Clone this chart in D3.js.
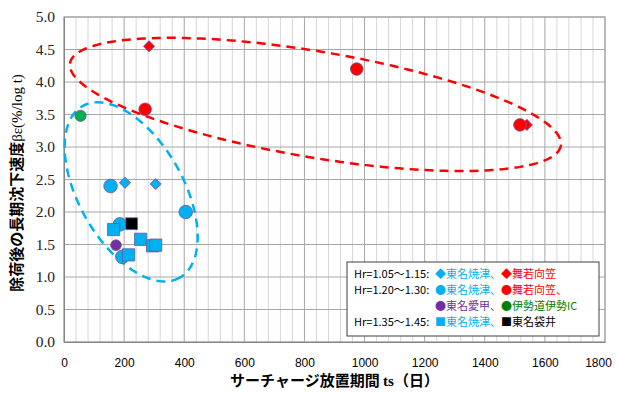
<!DOCTYPE html>
<html>
<head>
<meta charset="utf-8">
<script src="https://cdn.jsdelivr.net/npm/d3@7"></script>
<style>
  body { margin: 0; background: #fff; }
  svg { display: block; }
</style>
</head>
<body>
<div id="chart"></div>
<script>
// tick values
var xTicks = d3.range(0, 1801, 200);
var xMinor = d3.range(0, 1801, 40);
var yTicks = d3.range(0, 5.001, 0.5);

// series [ts, beta]
var diamondYaizu = [[203, 2.45], [305, 2.43]];
var diamondMaizuru = [[283, 4.55], [1540, 3.34]];
var circleYaizu = [[155, 2.40], [405, 2.00], [186, 1.81], [194, 1.31]];
var circleMaizuru = [[270, 3.58], [974, 4.20], [1517, 3.34]];
var circleAiko = [[173, 1.49]];
var circleIse = [[55, 3.48]];
var squareYaizu = [[165, 1.73], [255, 1.58], [295, 1.48], [305, 1.49], [215, 1.34]];
var squareFukuroi = [[225, 1.82]];

// dashed loops: major axis ends in data units + minor/major ratio
var loopRed = [[20, 4.29], [1653, 3.02]], loopRedRatio = 0.213;
var loopBlue = [[62, 3.63], [385, 0.99]], loopBlueRatio = 0.53;

var W = 619, H = 394;
var margin = {top: 17, right: 14, bottom: 52, left: 64};
var width = W - margin.left - margin.right;
var height = H - margin.top - margin.bottom;

var svg = d3.select("#chart").append("svg")
    .attr("width", W)
    .attr("height", H);

var g = svg.append("g")
    .attr("transform", "translate(" + margin.left + "," + margin.top + ")");

var x = d3.scaleLinear().domain([0, 1800]).range([0, width]);
var y = d3.scaleLinear().domain([0, 5]).range([height, 0]);

// grid
g.append("g").selectAll("line")
    .data(xMinor.filter(function(d) { return d % 200 != 0; }))
    .enter().append("line")
    .attr("x1", function(d) { return x(d); })
    .attr("x2", function(d) { return x(d); })
    .attr("y1", 0).attr("y2", height)
    .attr("stroke", "#d6d6d6");

g.append("g").selectAll("line")
    .data(xTicks)
    .enter().append("line")
    .attr("x1", function(d) { return x(d); })
    .attr("x2", function(d) { return x(d); })
    .attr("y1", 0).attr("y2", height)
    .attr("stroke", "#a6a6a6");

g.append("g").selectAll("line")
    .data(yTicks)
    .enter().append("line")
    .attr("x1", 0).attr("x2", width)
    .attr("y1", function(d) { return y(d); })
    .attr("y2", function(d) { return y(d); })
    .attr("stroke", "#a6a6a6");

g.append("rect")
    .attr("width", width).attr("height", height)
    .attr("fill", "none").attr("stroke", "#a0a0a0");

// axes
var xAxis = d3.axisBottom(x).tickValues(xTicks).tickSize(0).tickPadding(16)
    .tickFormat(d3.format("d"));
var yAxis = d3.axisLeft(y).tickValues(yTicks).tickSize(0).tickPadding(9)
    .tickFormat(d3.format(".1f"));

g.append("g")
    .attr("transform", "translate(0," + height + ")")
    .call(xAxis)
    .call(function(s) {
        s.select(".domain").attr("stroke", "#868686");
        s.selectAll("text").attr("font-family", "Liberation Sans, Arial, sans-serif")
            .attr("font-size", "12px").attr("fill", "#000");
        s.selectAll("text").filter(function(d) { return d == 1800; }).attr("dx", "-7");
    });

g.append("g")
    .call(yAxis)
    .call(function(s) {
        s.select(".domain").attr("stroke", "#868686");
        s.selectAll("text").attr("font-family", "Liberation Serif, Times New Roman, serif")
            .attr("font-size", "15.5px").attr("fill", "#222");
    });

// dashed loops
function loopPath(ends, ratio) {
    var p0 = [x(ends[0][0]), y(ends[0][1])];
    var p1 = [x(ends[1][0]), y(ends[1][1])];
    var cx = (p0[0] + p1[0]) / 2, cy = (p0[1] + p1[1]) / 2;
    var a = Math.hypot(p1[0] - p0[0], p1[1] - p0[1]) / 2;
    var b = a * ratio;
    var ang = Math.atan2(p1[1] - p0[1], p1[0] - p0[0]);
    var pts = d3.range(0, 2 * Math.PI, Math.PI / 90).map(function(t) {
        var ex = a * Math.cos(t), ey = b * Math.sin(t);
        return [cx + ex * Math.cos(ang) - ey * Math.sin(ang),
                cy + ex * Math.sin(ang) + ey * Math.cos(ang)];
    });
    return d3.line().curve(d3.curveLinearClosed)(pts);
}

g.append("path")
    .attr("d", loopPath(loopRed, loopRedRatio))
    .attr("fill", "none").attr("stroke", "#ff0000")
    .attr("stroke-width", 2.5).attr("stroke-dasharray", "9,6");

g.append("path")
    .attr("d", loopPath(loopBlue, loopBlueRatio))
    .attr("fill", "none").attr("stroke", "#00b0f0")
    .attr("stroke-width", 2.5).attr("stroke-dasharray", "9,6");

// markers
var edge = "#6a5a9a";
function drawSeries(data, type, fill, size, rot) {
    var sym = d3.symbol().type(type).size(size);
    g.append("g").selectAll("path")
        .data(data)
        .enter().append("path")
        .attr("transform", function(d) {
            return "translate(" + x(d[0]) + "," + y(d[1]) + ")" + (rot ? " rotate(45)" : "");
        })
        .attr("d", sym)
        .attr("fill", fill)
        .attr("stroke", edge)
        .attr("stroke-width", 0.8);
}

drawSeries(diamondYaizu, d3.symbolSquare, "#00b0f0", 62, true);
drawSeries(diamondMaizuru, d3.symbolSquare, "#ff0000", 62, true);
drawSeries(circleYaizu, d3.symbolCircle, "#00b0f0", 145);
drawSeries(circleMaizuru, d3.symbolCircle, "#ff0000", 125);
drawSeries(circleAiko, d3.symbolCircle, "#7030a0", 90);
drawSeries(circleIse, d3.symbolCircle, "#00b050", 100);
drawSeries(squareYaizu, d3.symbolSquare, "#00b0f0", 150);
drawSeries(squareFukuroi, d3.symbolSquare, "#000000", 140);

// axis titles
svg.append("text")
    .attr("transform", "translate(" + (margin.left + width / 2) + ",386)")
    .attr("text-anchor", "middle")
    .attr("font-family", "Noto Sans CJK JP, sans-serif")
    .attr("font-weight", "bold")
    .attr("font-size", "15px")
    .text("サーチャージ放置期間 ")
    .append("tspan")
    .attr("font-family", "Liberation Serif, serif")
    .text("ts")
    .append("tspan")
    .attr("font-family", "Noto Sans CJK JP, sans-serif")
    .text("（日）");

var yl = svg.append("text")
    .attr("transform", "translate(22,183) rotate(-90)")
    .attr("text-anchor", "middle")
    .attr("font-family", "Noto Sans CJK JP, sans-serif")
    .attr("font-weight", "bold")
    .attr("font-size", "15px");
yl.append("tspan").text("除荷後の長期沈下速度");
yl.append("tspan").attr("font-family", "Liberation Serif, serif")
    .attr("font-weight", "normal").text("βε(%/log t)");

// legend
var legendRows = [
    {hr: "Hr=1.05～1.15:", items: [["◆東名焼津、", "#00b0f0"], ["◆舞若向笠", "#ff0000"]]},
    {hr: "Hr=1.20～1.30:", items: [["●東名焼津、", "#00b0f0"], ["●舞若向笠、", "#ff0000"]]},
    {hr: "", items: [["●東名愛甲、", "#7030a0"], ["●伊勢道伊勢IC", "#008000"]]},
    {hr: "Hr=1.35～1.45:", items: [["■東名焼津、", "#00b0f0"], ["■東名袋井", "#000000"]]}
];

var lg = svg.append("g").attr("transform", "translate(347,262)");
lg.append("rect")
    .attr("width", 252).attr("height", 74)
    .attr("fill", "#fff").attr("stroke", "#404040");

lg.selectAll("text")
    .data(legendRows)
    .enter().append("text")
    .attr("x", 7)
    .attr("y", function(d, i) { return 16 + i * 16; })
    .attr("font-family", "Noto Sans CJK JP, sans-serif")
    .attr("font-size", "11px")
    .each(function(d) {
        var t = d3.select(this);
        t.append("tspan").attr("fill", "#000").text(d.hr);
        d.items.forEach(function(it, k) {
            var ts = t.append("tspan").attr("fill", it[1]).text(it[0]);
            if (k == 0) ts.attr("x", 88);
        });
    });
</script>
</body>
</html>
